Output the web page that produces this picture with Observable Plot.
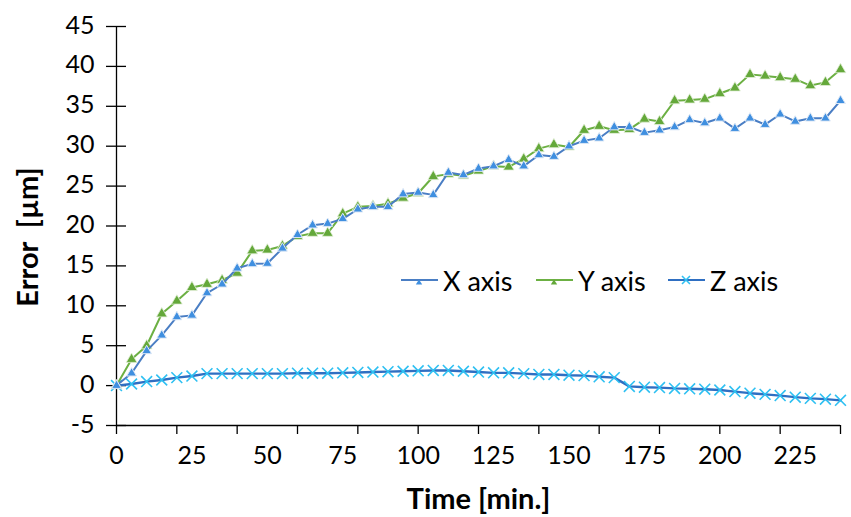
<!DOCTYPE html>
<html><head><meta charset="utf-8">
<script src="https://cdn.jsdelivr.net/npm/d3@7"></script>
<script src="https://cdn.jsdelivr.net/npm/@observablehq/plot@0.6"></script>
<style>
body{margin:0;background:#fff;}
#wrap{position:relative;width:851px;height:517px;overflow:hidden;}
.leg{position:absolute;top:265px;height:30px;display:flex;align-items:center;font-family:Lato, sans-serif;font-size:27px;color:#000;white-space:nowrap;}
.leg svg{margin-right:5px;}
</style></head><body><div id="wrap"></div>
<script>
const time = [0,5,10,15,20,25,30,35,40,45,50,55,60,65,70,75,80,85,90,95,100,105,110,115,120,125,130,135,140,145,150,155,160,165,170,175,180,185,190,195,200,205,210,215,220,225,230,235,240];
const xErr = [0,1.55,4.35,6.3,8.6,8.8,11.6,12.7,14.7,15.25,15.3,17.2,18.9,20.1,20.3,20.9,22.1,22.4,22.4,24.0,24.2,23.9,26.7,26.4,27.2,27.5,28.3,27.5,28.9,28.7,30.0,30.7,31.0,32.4,32.4,31.7,32.0,32.4,33.3,32.9,33.5,32.2,33.5,32.7,34.0,33.1,33.5,33.5,35.7];
const yErr = [0,3.3,5.0,9.0,10.6,12.3,12.7,13.2,14.1,16.9,17.0,17.5,18.7,19.1,19.1,21.55,22.4,22.5,22.8,23.5,24.1,26.2,26.5,26.3,26.9,27.5,27.4,28.4,29.7,30.2,29.9,32.0,32.5,32.0,32.1,33.4,33.1,35.7,35.8,35.9,36.6,37.3,39.0,38.8,38.6,38.4,37.6,38.0,39.6];
const zErr = [0,0.2,0.5,0.7,1.0,1.2,1.5,1.5,1.5,1.5,1.5,1.5,1.55,1.55,1.55,1.6,1.65,1.7,1.75,1.8,1.85,1.9,1.9,1.8,1.7,1.6,1.6,1.5,1.4,1.4,1.3,1.25,1.1,1.0,-0.1,-0.2,-0.25,-0.35,-0.4,-0.45,-0.55,-0.75,-0.95,-1.1,-1.25,-1.45,-1.6,-1.7,-1.85];
const seriesNames = ["X axis","Y axis","Z axis"];
const yTicks = [-5,0,5,10,15,20,25,30,35,40,45];
const xTickMarks = [0,20,40,60,80,100,120,140,160,180,200,220,240];
const xTickLabels = [0,25,50,75,100,125,150,175,200,225];
const xTitle = "Time [min.]";
const yTitle = "Error  [µm]";

const C = {xLine:"#4a7ec4", xMark:"#3f8fe0", yLine:"#6cb043", yMark:"#64a83a", zLine:"#2f6fc2", zMark:"#2ec0f2"};
const rows = (vals) => time.map((t,i)=>({t, v: vals[i]}));
const X = rows(xErr), Y = rows(yErr), Z = rows(zErr);
const font = "Lato, sans-serif";

const chart = Plot.plot({
  width: 851, height: 517,
  marginLeft: 116, marginRight: 11, marginTop: 26, marginBottom: 92,
  x: {domain: [0, 240]},
  y: {domain: [-5, 45]},
  style: {fontFamily: font, background: "white", color: "#000"},
  marks: [
    Plot.axisY({ticks: yTicks, tickSize: 20, dx: 10, text: null, stroke: "#000", strokeWidth: 1.3, label: null}),
    Plot.axisY({ticks: yTicks, tickSize: 0, tickPadding: 22, dy: -1, tickFormat: d => String(d), fontSize: 25, fill: "#000", label: null}),
    Plot.axisX({ticks: xTickMarks, tickSize: 9, text: null, stroke: "#000", strokeWidth: 1.3, label: null}),
    Plot.axisX({ticks: xTickLabels, tickSize: 0, tickPadding: 21, fontSize: 25, fill: "#000", label: null}),
    Plot.ruleX([0], {stroke: "#000", strokeWidth: 1.3}),
    Plot.ruleY([-5], {stroke: "#000", strokeWidth: 1.3}),
    Plot.line(Z, {x: "t", y: "v", stroke: C.zLine, strokeWidth: 2.4}),
    Plot.dot(Z, {x: "t", y: "v", symbol: "times", r: 5, stroke: C.zMark, strokeWidth: 1.6}),
    Plot.line(Y, {x: "t", y: "v", stroke: C.yLine, strokeWidth: 2}),
    Plot.dot(Y, {x: "t", y: "v", symbol: "triangle", r: 4, fill: C.yMark, stroke: "#e3efd9", strokeWidth: 0.8}),
    Plot.line(X, {x: "t", y: "v", stroke: C.xLine, strokeWidth: 2}),
    Plot.dot(X, {x: "t", y: "v", symbol: "triangle", r: 3.6, fill: C.xMark, stroke: "#dde8f6", strokeWidth: 1}),
    Plot.text([xTitle], {frameAnchor: "bottom", dy: 74, lineAnchor: "middle", textAnchor: "middle", fontSize: 29, fontWeight: "bold", fill: "#000"}),
    Plot.text([yTitle], {frameAnchor: "left", dx: -88, dy: 11, rotate: -90, lineAnchor: "middle", textAnchor: "middle", fontSize: 29, fontWeight: "bold", fill: "#000", style: "white-space:pre"})
  ]
});
const wrap = document.getElementById("wrap");
wrap.appendChild(chart);

// legend overlay
const legItems = [
  {name: seriesNames[0], left: 401, line: C.xLine, mark: C.xMark, sym: "tri"},
  {name: seriesNames[1], left: 536, line: C.yLine, mark: C.yMark, sym: "tri"},
  {name: seriesNames[2], left: 668, line: C.zLine, mark: C.zMark, sym: "x"}
];
for (const it of legItems) {
  const d = document.createElement("div");
  d.className = "leg";
  d.style.left = it.left + "px";
  const m = it.sym === "tri"
    ? `<path d="M18,10.5 l-3.2,5 h6.4z" fill="${it.mark}"/>`
    : `<path d="M14,7 l8,8 M22,7 l-8,8" stroke="${it.mark}" stroke-width="1.6"/>`;
  d.innerHTML = `<svg width="37" height="22"><line x1="0" x2="37" y1="11" y2="11" stroke="${it.line}" stroke-width="2"/>${m}</svg><span>${it.name}</span>`;
  wrap.appendChild(d);
}
</script></body></html>
